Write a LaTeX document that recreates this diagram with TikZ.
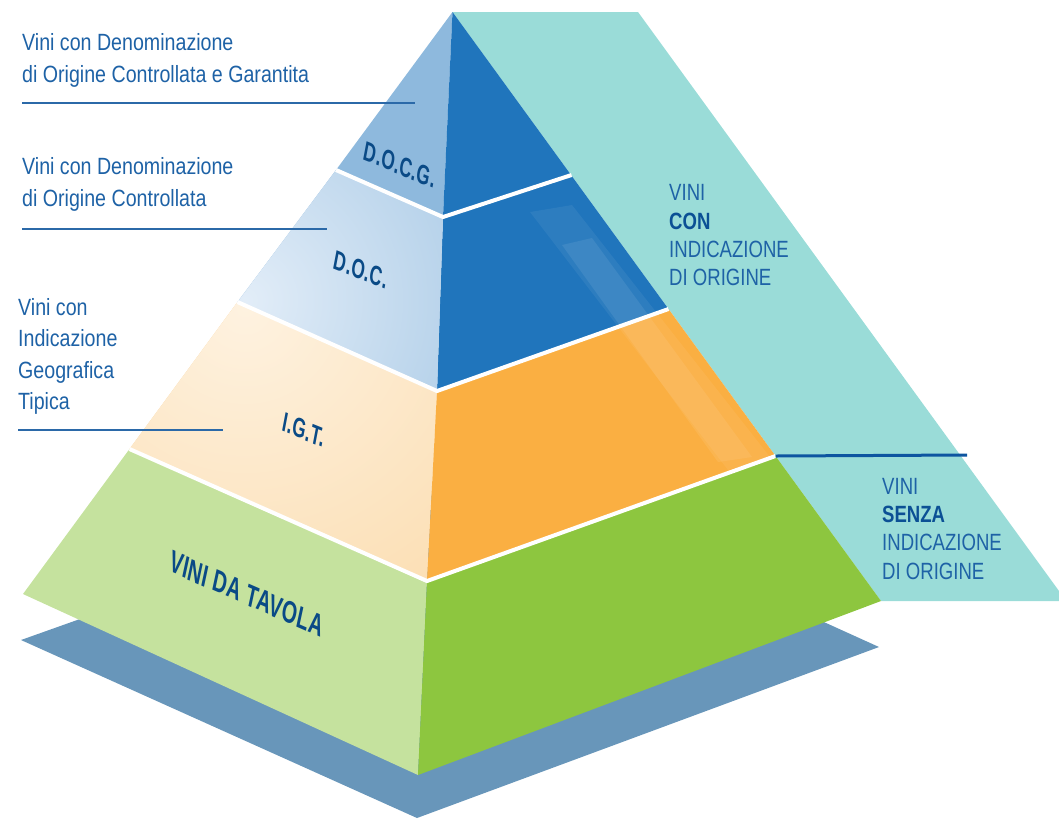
\documentclass[tikz,border=0pt]{standalone}
\usepackage{fontspec}
\setmainfont{Liberation Sans}[FakeStretch=0.835]
\newfontfamily\capsfont{Liberation Sans}[FakeStretch=0.79]
\newfontfamily\pyrfont{Liberation Sans}[FakeStretch=0.68, LetterSpace=1.5]
\definecolor{shadowc}{HTML}{6896BA}
\definecolor{tealc}{HTML}{9ADCD8}
\definecolor{docgL}{HTML}{8EB9DD}
\definecolor{docL}{HTML}{E2EDF8}
\definecolor{blueR}{HTML}{2075BC}
\definecolor{igtL}{HTML}{FAD49C}
\definecolor{igtLight}{HTML}{FEF2E0}
\definecolor{orangeR}{HTML}{FAAF42}
\definecolor{greenL}{HTML}{C5E29E}
\definecolor{greenR}{HTML}{8DC63F}
\definecolor{labc}{HTML}{1E62A6}
\definecolor{boldc}{HTML}{0B5095}
\definecolor{plabc}{HTML}{0A4A86}
\definecolor{rulec}{HTML}{2B69A8}
\definecolor{darkrule}{HTML}{0D55A0}
\begin{document}
\begin{tikzpicture}[x=1pt,y=-1pt,
  lab/.style={font=\fontsize{23.5}{28}\selectfont, text=labc, inner sep=0pt, anchor=base west},
  clab/.style={lab, font=\capsfont\fontsize{23.5}{28}\selectfont},
  blab/.style={lab, font=\capsfont\fontsize{23.5}{28}\selectfont\bfseries, text=boldc},
  plab/.style={font=\pyrfont\fontsize{26.5}{30}\selectfont\bfseries, text=plabc, inner sep=0pt, rotate=-22, xslant=-0.2},
  sepline/.style={white, line width=4pt},
  leader/.style={rulec, line width=1.3pt},
  darkleader/.style={darkrule, line width=3pt}]
\useasboundingbox (0,0) rectangle (1059,820);

% key points
\coordinate (A) at (452.5,12);
\coordinate (L1) at (336,170);   \coordinate (M1) at (443,217);  \coordinate (R1) at (571.5,175);
\coordinate (L2) at (237.5,302); \coordinate (M2) at (437,391);  \coordinate (R2) at (668.5,309);
\coordinate (L3) at (129.5,449); \coordinate (M3) at (427,581);  \coordinate (R3) at (775.5,456);
\coordinate (L4) at (23,594);    \coordinate (M4) at (418,775);  \coordinate (R4) at (881,601);

% shadow
\fill[shadowc] (21,640) -- (417,818) -- (879,647) -- (493,472) -- cycle;
% teal band
\fill[tealc] (A) -- (638,12) -- (1059,591) -- (1059,601) -- (R4) -- cycle;

% D.O.C.G. left
\fill[docgL] (A) -- (L1) -- (M1) -- cycle;
% right dark blue (DOCG + DOC)
\fill[blueR] (A) -- (M1) -- (M2) -- (R2) -- cycle;
% D.O.C. left with glow
\begin{scope}
  \clip (L1) -- (L2) -- (M2) -- (M1) -- cycle;
  \fill[docgL] (L1) -- (L2) -- (M2) -- (M1) -- cycle;
  \shade[inner color=docL, outer color=docgL] (245,300) circle (420);
\end{scope}
% I.G.T. left with glow
\begin{scope}
  \clip (L2) -- (L3) -- (M3) -- (M2) -- cycle;
  \fill[igtL] (L2) -- (L3) -- (M3) -- (M2) -- cycle;
  \shade[inner color=igtLight, outer color=igtL] (245,308) circle (520);
\end{scope}
% I.G.T. right
\fill[orangeR] (M2) -- (M3) -- (R3) -- (R2) -- cycle;
% base
\fill[greenL] (L3) -- (L4) -- (M4) -- (M3) -- cycle;
\fill[greenR] (M3) -- (M4) -- (R4) -- (R3) -- cycle;

% glossy stripe on the right faces
\begin{scope}
  \clip (A) -- (M1) -- (M2) -- (M3) -- (R3) -- cycle;
  \fill[white, opacity=0.06] (530,212) -- (572,205) -- (770,457) -- (728,470) -- cycle;
  \fill[white, opacity=0.08] (562,245) -- (592,238) -- (752,457) -- (718,462) -- cycle;
\end{scope}

% separators
\draw[sepline] (L1) -- (M1) -- (R1);
\draw[sepline] (L2) -- (M2) -- (R2);
\draw[sepline] (L3) -- (M3) -- (R3);

% pyramid labels
\node[plab] (docg) at (400,165) {D.O.C.G.};
\node[plab] (doc) at (361,270) {D.O.C.};
\node[plab] (igt) at (304,430) {I.G.T.};
\node[plab, rotate=-1.5, font=\pyrfont\fontsize{30}{34}\selectfont\bfseries] (vdt) at (247,594) {VINI DA TAVOLA};

% left labels
\node[lab] (t1a) at (22,50) {Vini con Denominazione};
\node[lab] (t1b) at (22,82) {di Origine Controllata e Garantita};
\coordinate (r1s) at (22,103); \coordinate (r1e) at (415,103);
\draw[leader] (r1s) -- (r1e);

\node[lab] (t2a) at (22,174) {Vini con Denominazione};
\node[lab] (t2b) at (22,206) {di Origine Controllata};
\coordinate (r2s) at (22,229); \coordinate (r2e) at (327,229);
\draw[leader] (r2s) -- (r2e);

\node[lab] (t3a) at (18,315) {Vini con};
\node[lab] (t3b) at (18,346) {Indicazione};
\node[lab] (t3c) at (18,378) {Geografica};
\node[lab] (t3d) at (18,409) {Tipica};
\coordinate (r3s) at (18,430); \coordinate (r3e) at (223,430);
\draw[leader] (r3s) -- (r3e);

% right labels
\node[clab] (c1) at (669,200) {VINI};
\node[blab] (c2) at (669,229) {CON};
\node[clab] (c3) at (669,257) {INDICAZIONE};
\node[clab] (c4) at (669,285) {DI ORIGINE};

\coordinate (d1e) at (967,455);
\draw[darkleader] (R3) -- (d1e);

\node[clab] (s1) at (882,494) {VINI};
\node[blab] (s2) at (882,522) {SENZA};
\node[clab] (s3) at (882,550) {INDICAZIONE};
\node[clab] (s4) at (882,579) {DI ORIGINE};
\end{tikzpicture}
\end{document}
